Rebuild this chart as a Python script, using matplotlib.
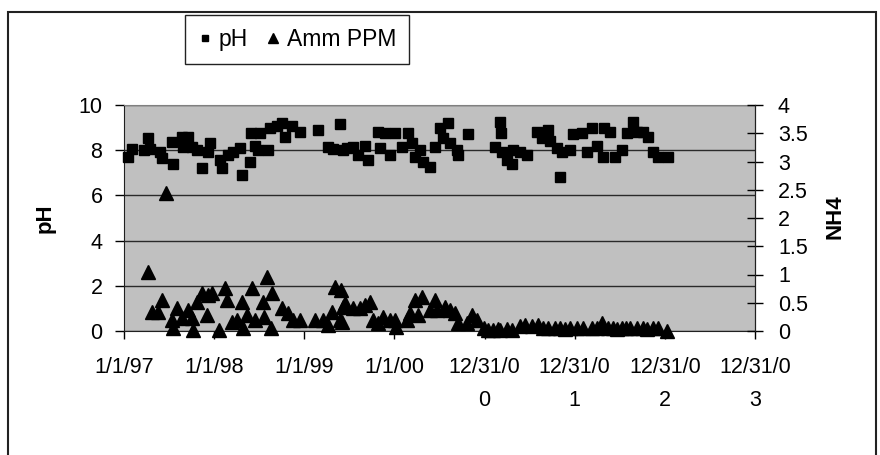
"""Excel-style pH / ammonia scatter on twin axes."""

import matplotlib
matplotlib.use("Agg")
import matplotlib.pyplot as plt
from matplotlib.lines import Line2D
from matplotlib.patches import Rectangle
import pandas as pd

plt.rcParams["font.family"] = ["Liberation Sans", "DejaVu Sans"]

# --- data ------------------------------------------------------------------
ph_dates = [
    "1997-01-17", "1997-02-02", "1997-03-23", "1997-04-08", "1997-04-16",
    "1997-05-27", "1997-06-04", "1997-07-14", "1997-07-18", "1997-08-24",
    "1997-08-28", "1997-09-17", "1997-10-03", "1997-10-24", "1997-11-13",
    "1997-12-07", "1997-12-15", "1998-01-25", "1998-02-02", "1998-02-26",
    "1998-03-19", "1998-04-16", "1998-04-24", "1998-05-26", "1998-05-30",
    "1998-06-16", "1998-06-28", "1998-07-06", "1998-08-07", "1998-08-15",
    "1998-09-13", "1998-10-03", "1998-10-15", "1998-11-13", "1998-12-15",
    "1999-02-26", "1999-04-07", "1999-04-28", "1999-05-26", "1999-06-07",
    "1999-06-23", "1999-07-18", "1999-08-07", "1999-09-04", "1999-09-16",
    "1999-10-27", "1999-11-04", "1999-11-24", "1999-12-15", "2000-01-04",
    "2000-02-01", "2000-02-25", "2000-03-13", "2000-03-25", "2000-04-14",
    "2000-04-26", "2000-05-25", "2000-06-14", "2000-07-04", "2000-07-16",
    "2000-08-06", "2000-08-14", "2000-09-11", "2000-09-15", "2000-10-26",
    "2001-02-12", "2001-03-04", "2001-03-08", "2001-03-12", "2001-04-02",
    "2001-04-22", "2001-04-26", "2001-05-24", "2001-06-22", "2001-08-01",
    "2001-08-21", "2001-09-15", "2001-09-23", "2001-10-21", "2001-11-02",
    "2001-11-10", "2001-12-13", "2001-12-25", "2002-01-30", "2002-02-20",
    "2002-03-12", "2002-04-01", "2002-04-25", "2002-04-29", "2002-05-24",
    "2002-06-13", "2002-07-11", "2002-08-01", "2002-08-25", "2002-09-10",
    "2002-10-04", "2002-10-25", "2002-11-14", "2002-12-04", "2003-01-14",
]
ph_values = [
    7.7, 8.05, 8.0, 8.55, 8.05, 7.9, 7.65, 8.35, 7.4, 8.6,
    8.15, 8.6, 8.15, 8.0, 7.2, 7.9, 8.3, 7.55, 7.2, 7.8,
    7.9, 8.1, 6.9, 7.5, 8.75, 8.2, 8.0, 8.75, 8.0, 9.0,
    9.05, 9.2, 8.6, 9.05, 8.8, 8.9, 8.15, 8.05, 9.15, 8.0,
    8.1, 8.15, 7.8, 8.2, 7.55, 8.8, 8.1, 8.75, 7.8, 8.75,
    8.15, 8.75, 8.3, 7.7, 8.0, 7.5, 7.25, 8.15, 9.0, 8.55,
    9.2, 8.3, 8.0, 7.8, 8.7, 8.15, 9.25, 8.75, 7.9, 7.55,
    7.4, 8.0, 7.9, 7.8, 8.8, 8.55, 8.9, 8.4, 8.1, 6.8,
    7.9, 8.0, 8.7, 8.75, 7.9, 9.0, 8.2, 7.7, 9.0, 8.8,
    7.7, 8.0, 8.75, 9.25, 8.8, 8.8, 8.6, 7.9, 7.7, 7.7,
]

nh4_dates = [
    "1997-04-08", "1997-04-24", "1997-05-19", "1997-06-04", "1997-06-20",
    "1997-07-14", "1997-07-18", "1997-08-04", "1997-08-24", "1997-09-17",
    "1997-10-03", "1997-10-08", "1997-10-24", "1997-11-13", "1997-12-03",
    "1997-12-07", "1997-12-23", "1998-01-21", "1998-02-14", "1998-02-22",
    "1998-03-14", "1998-04-04", "1998-04-24", "1998-04-28", "1998-05-14",
    "1998-06-04", "1998-06-16", "1998-07-18", "1998-07-22", "1998-08-03",
    "1998-08-19", "1998-08-24", "1998-10-03", "1998-10-27", "1998-11-17",
    "1998-12-15", "1999-02-14", "1999-03-18", "1999-04-07", "1999-04-24",
    "1999-05-06", "1999-05-26", "1999-05-30", "1999-06-03", "1999-06-07",
    "1999-06-15", "1999-07-18", "1999-08-15", "1999-09-04", "1999-09-25",
    "1999-10-07", "1999-10-27", "1999-11-16", "1999-12-15", "2000-01-04",
    "2000-01-08", "2000-02-21", "2000-03-05", "2000-03-25", "2000-04-06",
    "2000-04-22", "2000-05-25", "2000-06-14", "2000-06-22", "2000-07-24",
    "2000-08-14", "2000-09-03", "2000-09-15", "2000-10-21", "2000-11-11",
    "2000-12-01", "2000-12-29", "2001-01-15", "2001-02-04", "2001-02-24",
    "2001-03-04", "2001-04-02", "2001-04-22", "2001-05-24", "2001-06-13",
    "2001-07-12", "2001-08-05", "2001-08-25", "2001-09-15", "2001-10-13",
    "2001-11-02", "2001-11-23", "2001-12-13", "2002-01-10", "2002-02-03",
    "2002-03-12", "2002-04-01", "2002-04-21", "2002-05-16", "2002-06-05",
    "2002-06-21", "2002-07-11", "2002-07-28", "2002-08-13", "2002-09-10",
    "2002-10-04", "2002-10-21", "2002-11-14", "2002-12-04", "2003-01-10",
]
nh4_values = [
    1.05, 0.34, 0.34, 0.55, 2.44, 0.2, 0.05, 0.4, 0.23, 0.37,
    0.23, 0.02, 0.51, 0.67, 0.28, 0.64, 0.67, 0.02, 0.76, 0.55,
    0.16, 0.2, 0.51, 0.05, 0.28, 0.76, 0.2, 0.51, 0.25, 0.96,
    0.05, 0.67, 0.4, 0.32, 0.2, 0.2, 0.2, 0.2, 0.1, 0.34,
    0.78, 0.2, 0.72, 0.16, 0.42, 0.5, 0.4, 0.4, 0.46, 0.51,
    0.2, 0.14, 0.25, 0.2, 0.2, 0.07, 0.2, 0.32, 0.55, 0.28,
    0.6, 0.37, 0.55, 0.37, 0.42, 0.37, 0.32, 0.14, 0.14, 0.28,
    0.2, 0.05, 0.02, 0.02, 0.03, 0.02, 0.03, 0.02, 0.08, 0.1,
    0.08, 0.1, 0.06, 0.06, 0.05, 0.05, 0.04, 0.05, 0.06, 0.06,
    0.06, 0.05, 0.14, 0.06, 0.06, 0.04, 0.05, 0.06, 0.05, 0.05,
    0.05, 0.04, 0.05, 0.05, 0.0,
]

x_start, x_end = "1997-01-01", "2003-12-31"
x_tick_labels = ["1/1/97", "1/1/98", "1/1/99", "1/1/00",
                 "12/31/0\n0", "12/31/0\n1", "12/31/0\n2", "12/31/0\n3"]
ph_ticks = [0, 2, 4, 6, 8, 10]
nh4_ticks = [0, 0.5, 1, 1.5, 2, 2.5, 3, 3.5, 4]

# --- figure ----------------------------------------------------------------
W, H = 880, 455
fig = plt.figure(figsize=(W / 100, H / 100), dpi=100)
fig.patch.set_facecolor("white")
fig.add_artist(Rectangle((8 / W, -0.1), 868 / W, 1.1 - 12 / H,
                         transform=fig.transFigure, fill=False,
                         edgecolor="#222222", lw=1.5, clip_on=False))

ax = fig.add_axes([124 / W, 1 - 331 / H, (755 - 124) / W, (331 - 105) / H])
ax.set_facecolor("#c0c0c0")
ax2 = ax.twinx()

ph_x = pd.to_datetime(ph_dates)
nh4_x = pd.to_datetime(nh4_dates)
ax.plot(ph_x, ph_values, ls="none", marker="s", ms=7.4, color="black",
        clip_on=False, zorder=3)
ax2.plot(nh4_x, nh4_values, ls="none", marker="^", ms=9.8, color="black",
         clip_on=False, zorder=3)

ax.set_ylim(0, 10)
ax.set_yticks(ph_ticks)
ax2.set_ylim(0, 4)
ax2.set_yticks(nh4_ticks)
ax2.set_yticklabels([f"{t:g}" for t in nh4_ticks])

ticks = pd.date_range(x_start, periods=len(x_tick_labels), freq="365D")
ax.set_xlim(pd.Timestamp(x_start), pd.Timestamp(x_end))
ax.set_xticks(ticks)
ax.set_xticklabels(x_tick_labels, linespacing=1.7)

ax.set_axisbelow(True)
ax.yaxis.grid(True, color="#2a2a2a", lw=1)
ax.xaxis.grid(False)

fs = 15.5
ax.tick_params(axis="y", direction="out", length=6.5, width=1,
               labelsize=fs, pad=9)
ax.tick_params(axis="x", direction="out", length=6, width=1,
               labelsize=fs, pad=13)
ax2.tick_params(axis="y", direction="inout", length=11, width=1,
                labelsize=fs, pad=11)

ax.spines["top"].set_color("#808080")
ax2.spines["top"].set_visible(False)
for sp in ("left", "bottom"):
    ax.spines[sp].set_color("#202020")
ax2.spines["right"].set_color("#202020")
ax2.spines["left"].set_visible(False)
ax2.spines["bottom"].set_visible(False)

fig.text(45 / W, 1 - 218 / H, "pH", rotation=90, fontsize=16,
         fontweight="bold", ha="center", va="center")
fig.text(835 / W, 1 - 217 / H, "NH4", rotation=90, fontsize=16,
         fontweight="bold", ha="center", va="center")

handles = [
    Line2D([], [], ls="none", marker="s", ms=5, color="black", label="pH"),
    Line2D([], [], ls="none", marker="^", ms=6.5, color="black",
           label="Amm PPM"),
]
leg = fig.legend(handles=handles, loc="center", ncol=2, fontsize=16.5,
                 bbox_to_anchor=(297 / W, 1 - 39.5 / H), frameon=True,
                 fancybox=False, edgecolor="#222222", framealpha=1,
                 handlelength=0.6, handletextpad=0.3, columnspacing=0.8,
                 borderpad=0.55)
leg.get_frame().set_linewidth(1)

fig.savefig("out.png", dpi=100)
